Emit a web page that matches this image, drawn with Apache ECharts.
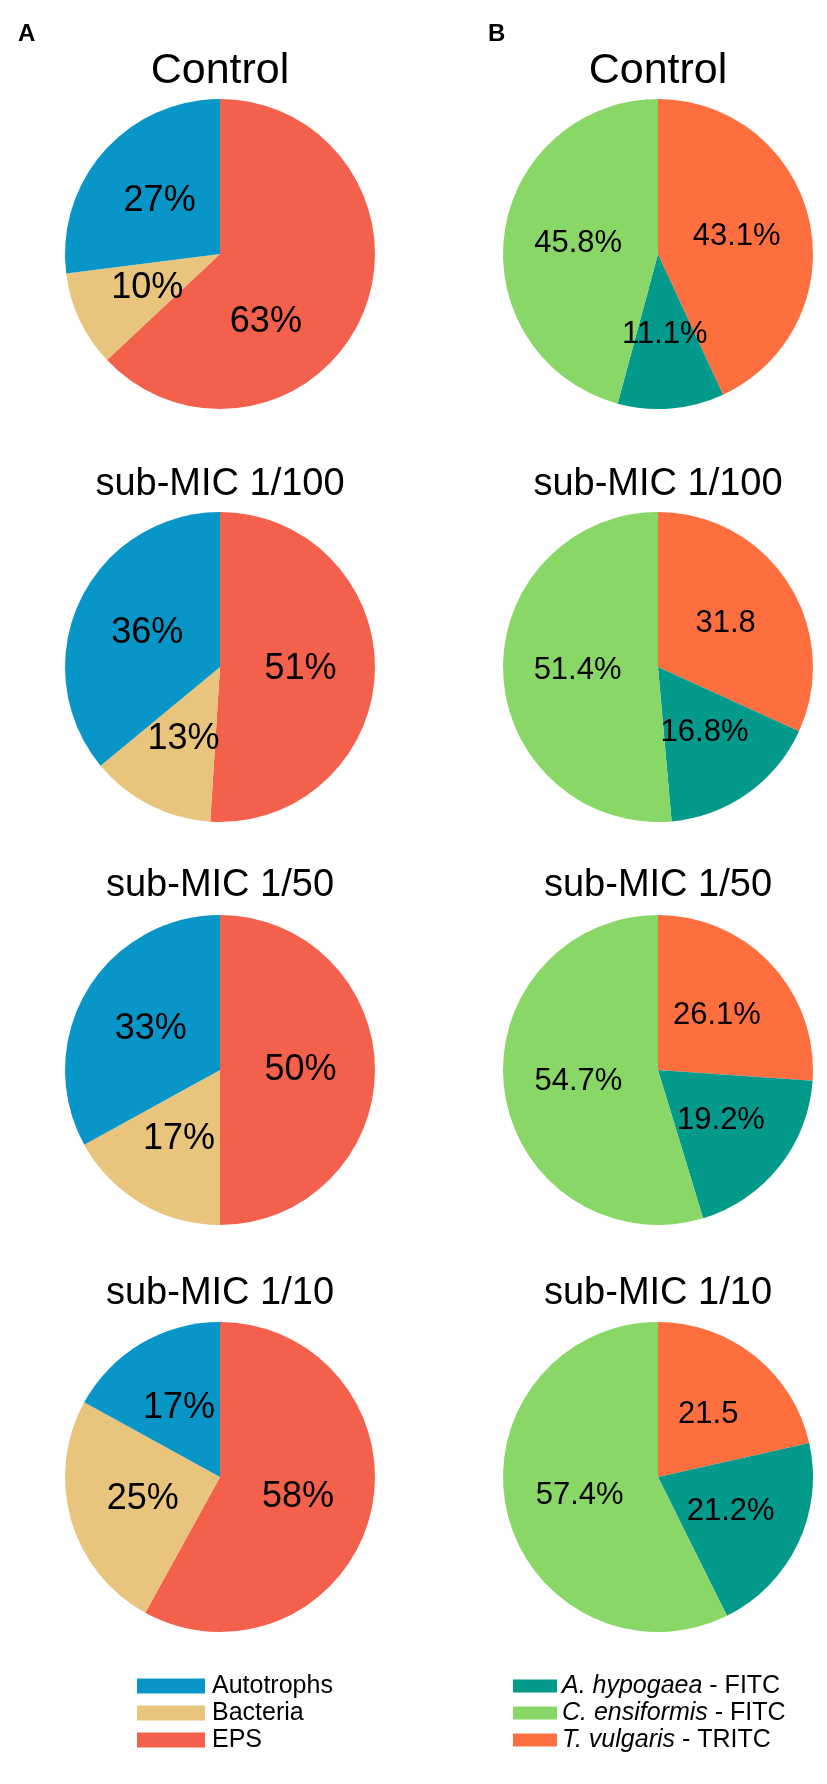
<!DOCTYPE html>
<html>
<head>
<meta charset="utf-8">
<script src="https://cdn.jsdelivr.net/npm/echarts@6/dist/echarts.min.js"></script>
<style>
  html, body { margin: 0; padding: 0; background: #fff; }
  #chart { width: 827px; height: 1784px; }
</style>
</head>
<body>
<div id="chart"></div>
<script>
// conditions (rows)
const conditions = ['Control', 'sub-MIC 1/100', 'sub-MIC 1/50', 'sub-MIC 1/10'];

// panel A: biofilm composition (%)
const autotrophs = [27, 36, 33, 17];
const bacteria = [10, 13, 17, 25];
const eps = [63, 51, 50, 58];

// panel B: lectin staining (%)
const hypogaea = [11.1, 16.8, 19.2, 21.2];
const ensiformis = [45.8, 51.4, 54.7, 57.4];
const vulgaris = [43.1, 31.8, 26.1, 21.5];
// some labels in the figure have no % sign
const vulgarisLabels = ['43.1%', '31.8', '26.1%', '21.5'];

const namesA = ['Autotrophs', 'Bacteria', 'EPS'];
const namesB = ['A. hypogaea - FITC', 'C. ensiformis - FITC', 'T. vulgaris - TRITC'];

const colA = { 'Autotrophs': '#0896c9', 'Bacteria': '#e8c47d', 'EPS': '#f3604b' };
const colB = { 'A. hypogaea - FITC': '#03998b', 'C. ensiformis - FITC': '#89d766', 'T. vulgaris - TRITC': '#fe6f40' };

const FONT = "'Liberation Sans', Arial, Helvetica, sans-serif";
const xA = 220, xB = 658, R = 155;
const rowY = [254, 667, 1070, 1477];
const titleTop = [50, 466, 867, 1275];

const myChart = echarts.init(document.getElementById('chart'), null, { renderer: 'canvas' });

const titles = [
  { text: 'A', left: 18, top: 22, padding: 0, textStyle: { fontFamily: FONT, fontSize: 24, fontWeight: 'bold', color: '#000' } },
  { text: 'B', left: 488, top: 22, padding: 0, textStyle: { fontFamily: FONT, fontSize: 24, fontWeight: 'bold', color: '#000' } }
];
const series = [];

conditions.forEach((c, i) => {
  const fs = i === 0 ? 43 : 38;
  [xA, xB].forEach(x => {
    titles.push({
      text: c, left: x, top: titleTop[i], textAlign: 'center', padding: 0,
      textStyle: { fontFamily: FONT, fontSize: fs, fontWeight: 'normal', color: '#000' }
    });
  });

  // clockwise from 12 o'clock: EPS, Bacteria, Autotrophs
  series.push({
    type: 'pie', name: 'A ' + c,
    center: [xA, rowY[i]], radius: R,
    startAngle: 90, clockwise: true, silent: true, animation: false,
    itemStyle: { borderWidth: 0 },
    label: { show: true, position: 'inside', fontFamily: FONT, fontSize: 36, color: '#000',
      formatter: p => p.value + '%' },
    labelLine: { show: false },
    data: [
      // the control EPS label sits lower in the original figure
      { name: 'EPS', value: eps[i], itemStyle: { color: colA['EPS'] },
        label: i === 0 ? { offset: [-28, 36] } : {} },
      { name: 'Bacteria', value: bacteria[i], itemStyle: { color: colA['Bacteria'] } },
      { name: 'Autotrophs', value: autotrophs[i], itemStyle: { color: colA['Autotrophs'] } }
    ]
  });

  // clockwise from 12 o'clock: T. vulgaris, A. hypogaea, C. ensiformis
  series.push({
    type: 'pie', name: 'B ' + c,
    center: [xB, rowY[i]], radius: R,
    startAngle: 90, clockwise: true, silent: true, animation: false,
    itemStyle: { borderWidth: 0 },
    label: { show: true, position: 'inside', fontFamily: FONT, fontSize: 31, color: '#000' },
    labelLine: { show: false },
    data: [
      { name: namesB[2], value: vulgaris[i], itemStyle: { color: colB[namesB[2]] },
        label: { formatter: vulgarisLabels[i] } },
      { name: namesB[0], value: hypogaea[i], itemStyle: { color: colB[namesB[0]] },
        label: { formatter: hypogaea[i].toFixed(1) + '%' } },
      { name: namesB[1], value: ensiformis[i], itemStyle: { color: colB[namesB[1]] },
        label: { formatter: ensiformis[i].toFixed(1) + '%' } }
    ]
  });
});

const option = {
  backgroundColor: '#fff',
  animation: false,
  title: titles,
  legend: [
    {
      orient: 'vertical', left: 137, top: 1673, padding: 0,
      itemWidth: 68, itemHeight: 15, itemGap: 1, icon: 'rect',
      selectedMode: false,
      data: namesA,
      textStyle: { fontFamily: FONT, fontSize: 25, color: '#000', lineHeight: 26, padding: [0, 0, 0, 2] }
    },
    {
      orient: 'vertical', left: 513, top: 1673, padding: 0,
      itemWidth: 44, itemHeight: 13, itemGap: 1, icon: 'rect',
      selectedMode: false,
      data: namesB,
      formatter: name => {
        const parts = name.split(' - ');
        return '{i|' + parts[0] + '}{n| - ' + parts[1] + '}';
      },
      textStyle: {
        fontFamily: FONT, fontSize: 25, color: '#000', lineHeight: 26,
        rich: {
          i: { fontFamily: FONT, fontSize: 25, fontStyle: 'italic', color: '#000', lineHeight: 26 },
          n: { fontFamily: FONT, fontSize: 25, color: '#000', lineHeight: 26 }
        }
      }
    }
  ],
  series: series
};

myChart.setOption(option);
</script>
</body>
</html>
